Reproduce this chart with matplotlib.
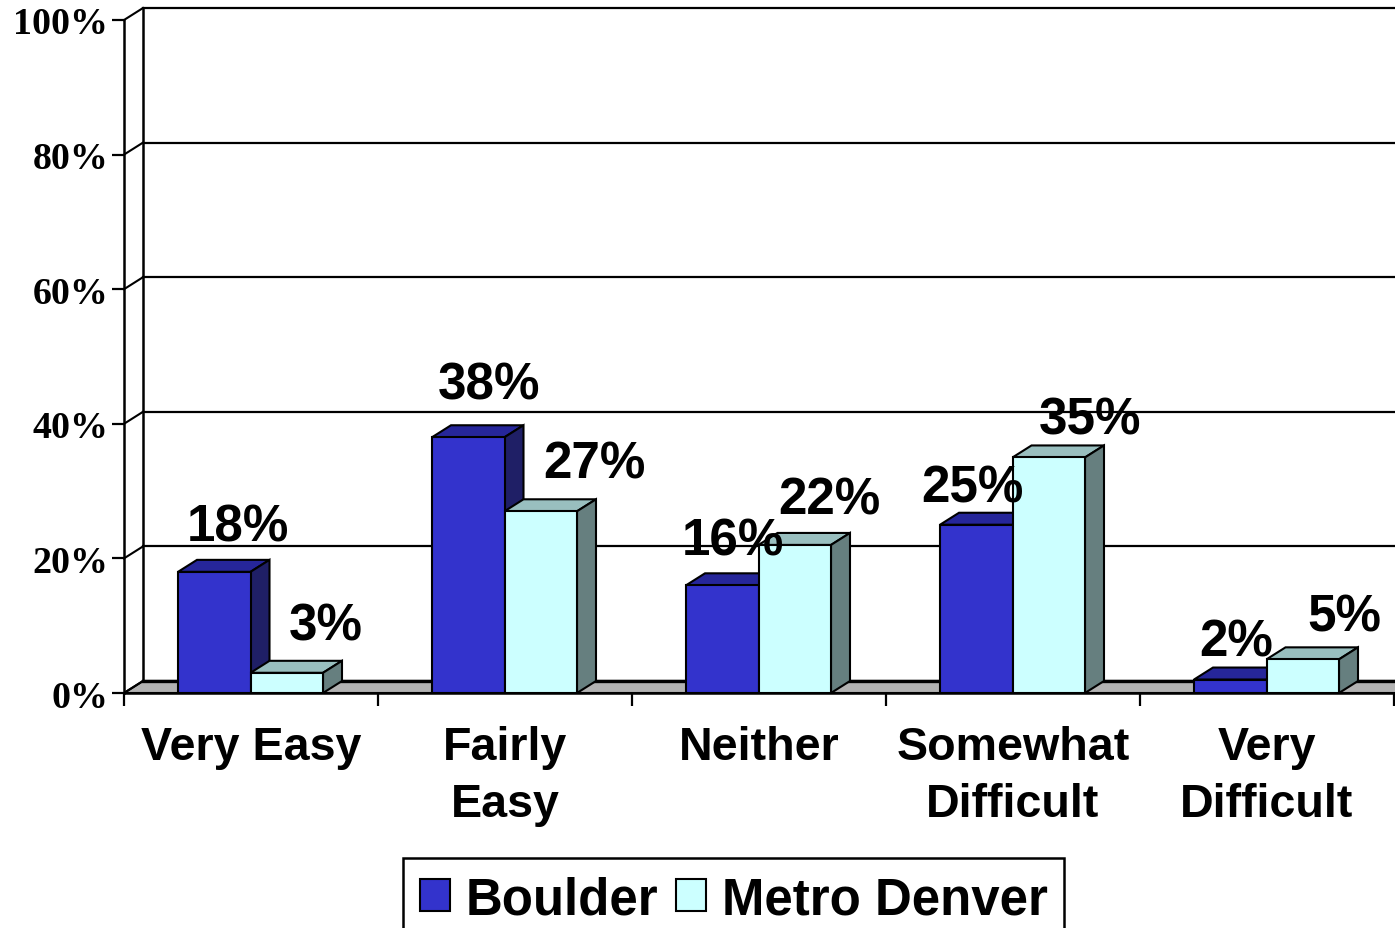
import matplotlib
matplotlib.use("Agg")
import matplotlib.pyplot as plt
from matplotlib.patches import Polygon, Rectangle

categories = ["Very Easy", "Fairly\nEasy", "Neither", "Somewhat\nDifficult", "Very\nDifficult"]
boulder = [18, 38, 16, 25, 2]
metro = [3, 27, 22, 35, 5]
yticks = [0, 20, 40, 60, 80, 100]

W, H = 1395, 929
L, R, T, B = 124, 1394, 21, 694
SCALE = (B - T) / 100
fig = plt.figure(figsize=(W / 100, H / 100), dpi=100)
ax = fig.add_axes([L / W, 1 - B / H, (R - L) / W, (B - T) / H])
ax.set_xlim(0, 5)
ax.set_ylim(0, 100)
ax.patch.set_visible(False)
for s in ax.spines.values():
    s.set_visible(False)
ax.spines['left'].set_visible(True)
ax.spines['bottom'].set_visible(True)
ax.spines['left'].set_linewidth(1.8)
ax.spines['bottom'].set_linewidth(1.8)

DX = 19 / 254
DY = 12 / SCALE
BW = 72.5 / 254
OFF = 54 / 254
LW = 1.5

# back wall and floor
ax.add_patch(Polygon([(0, 0), (DX, DY), (5.1, DY), (5.1, 0)], closed=True, fc="#B2B2B2", ec="black", lw=LW, clip_on=False, zorder=1))
ax.plot([DX, 5.1], [DY, DY], color="black", lw=2.4, clip_on=False, zorder=1)
for v in yticks:
    ax.plot([0, DX], [v, v + DY], color="black", lw=1.5, clip_on=False, zorder=1)
    ax.plot([DX, 5.1], [v + DY, v + DY], color="black", lw=1.6, clip_on=False, zorder=1)
ax.plot([DX, DX], [DY, 100 + DY], color="black", lw=1.8, clip_on=False, zorder=1)


def bar3d(x, h, front, top, side, z):
    ax.add_patch(Rectangle((x, 0), BW, h, fc=front, ec="black", lw=LW, zorder=z + 0.2))
    ax.add_patch(Polygon([(x, h), (x + DX, h + DY), (x + BW + DX, h + DY), (x + BW, h)], closed=True, fc=top, ec="black", lw=LW, zorder=z))
    ax.add_patch(Polygon([(x + BW, 0), (x + BW + DX, DY), (x + BW + DX, h + DY), (x + BW, h)], closed=True, fc=side, ec="black", lw=LW, zorder=z))


for i, (a, b) in enumerate(zip(boulder, metro)):
    x0 = i + OFF
    bar3d(x0, a, "#3333CC", "#26269A", "#1F1F66", 2 + i)
    bar3d(x0 + BW, b, "#CCFFFF", "#99BFBF", "#667F7F", 2.5 + i)

label_font = dict(family="Liberation Sans", fontweight="bold", fontsize=36.8, color="black", ha="center", va="center", zorder=20)
m_cx = [326, 594, 829, 1090, 1344]
m_y = [627, 465, 501, 421, 618]
b_cx = [238, 489, 733, 972, 1236]
b_y = [528, 386, 542, 489, 643]
to_x = lambda p: (p - L) / 254
to_y = lambda p: (B - p) / SCALE
for i in range(5):
    ax.text(to_x(b_cx[i]), to_y(b_y[i]), f"{boulder[i]}%", **label_font)
    ax.text(to_x(m_cx[i]), to_y(m_y[i]), f"{metro[i]}%", **label_font)

ax.set_yticks(yticks)
ax.set_yticklabels([f"{v}%" for v in yticks], family="Liberation Serif", fontweight="bold", fontsize=27.3)
ax.set_xticks(range(6))
ax.set_xticklabels([])
ax.tick_params(axis="y", direction="out", length=9, width=1.6, pad=2.5)
ax.tick_params(axis="x", direction="out", length=9, width=1.6)
for i, c in enumerate(categories):
    ax.text(i + 0.5, to_y(726), c, family="Liberation Sans", fontweight="bold", fontsize=33.6, ha="center", va="top", linespacing=1.37)

# legend
handles = [Rectangle((0, 0), 1, 1, fc="#3333CC", ec="black", lw=1.5), Rectangle((0, 0), 1, 1, fc="#CCFFFF", ec="black", lw=1.5)]
leg = fig.legend(handles, ["Boulder", "Metro Denver"], ncol=2, loc="lower left",
                 bbox_to_anchor=(403 / W, -13 / H), borderaxespad=0, frameon=True, fancybox=False, framealpha=1,
                 edgecolor="black", borderpad=0.33, handlelength=0.59, handleheight=0.59, handletextpad=0.3, columnspacing=0.36,
                 prop=dict(family="Liberation Sans", weight="bold", size=36.7))
leg.get_frame().set_linewidth(1.8)
fig.savefig("out.png", dpi=100)
